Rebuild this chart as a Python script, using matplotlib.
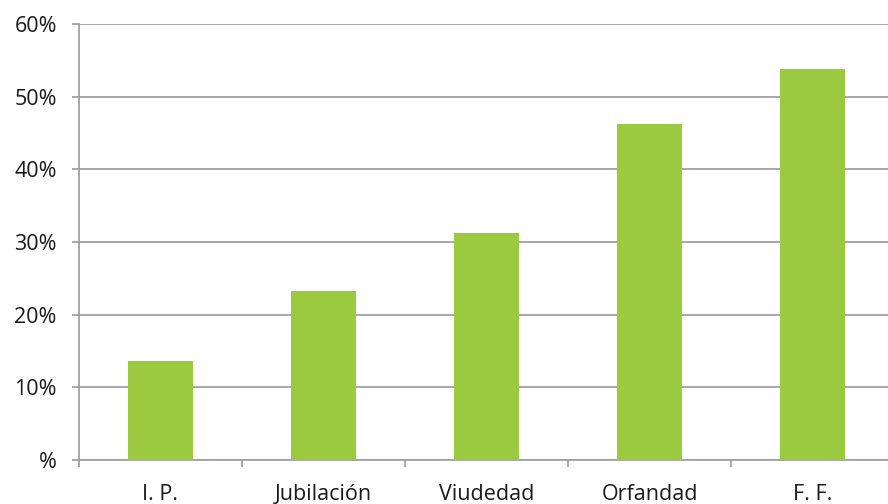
import matplotlib
matplotlib.use("Agg")
import matplotlib.pyplot as plt
import numpy as np

categories = ["I. P.", "Jubilación", "Viudedad", "Orfandad", "F. F."]
values = [13.6, 23.3, 31.2, 46.2, 53.8]
y_ticks = [0, 10, 20, 30, 40, 50, 60]
y_labels = ["%", "10%", "20%", "30%", "40%", "50%", "60%"]

plt.rcParams['font.family'] = ['Open Sans', 'DejaVu Sans']

fig = plt.figure(figsize=(8.88, 5.04), dpi=100)
ax = fig.add_axes([79 / 888, 44 / 504, 815 / 888, 436 / 504])

x = np.arange(len(categories))
ax.bar(x, values, width=0.4, color="#9BC93F", zorder=3)

ax.set_xlim(-0.5, len(categories) - 0.5)
ax.set_ylim(0, 60)
ax.set_yticks(y_ticks)
ax.set_yticklabels(y_labels)
ax.yaxis.grid(True, color="#A0A0A0", linewidth=1.3, zorder=0)

ax.set_xticks(x)
ax.set_xticklabels(categories)
ax.set_xticks(np.arange(len(categories) + 1) - 0.5, minor=True)
ax.tick_params(axis="x", which="major", length=0, pad=17, labelsize=15.5, colors="#1a1a1a")
ax.tick_params(axis="x", which="minor", length=5, width=1.3, color="#A0A0A0")
ax.tick_params(axis="y", length=5, width=1.3, color="#A0A0A0", pad=11, labelsize=15.5, labelcolor="#1a1a1a")

for s in ["top", "right"]:
    ax.spines[s].set_visible(False)
for s in ["left", "bottom"]:
    ax.spines[s].set_color("#A0A0A0")
    ax.spines[s].set_linewidth(1.3)

fig.savefig("out.png", dpi=100)
